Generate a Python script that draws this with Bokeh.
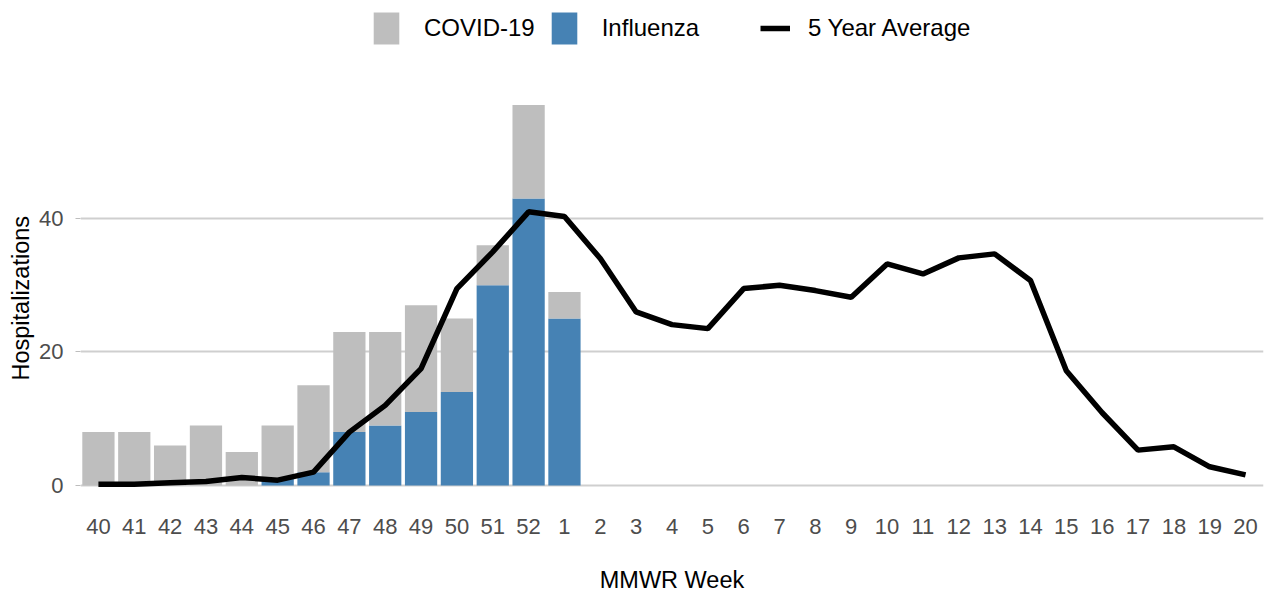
from bokeh.plotting import figure
from bokeh.models import ColumnDataSource, FactorRange, Range1d, Legend, LegendItem, FixedTicker, Title
from bokeh.embed import file_html
from bokeh.resources import INLINE

# ---- data ----
weeks = ["40", "41", "42", "43", "44", "45", "46", "47", "48", "49", "50", "51", "52",
         "1", "2", "3", "4", "5", "6", "7", "8", "9", "10", "11", "12", "13", "14",
         "15", "16", "17", "18", "19", "20"]
bar_weeks = ["40", "41", "42", "43", "44", "45", "46", "47", "48", "49", "50", "51", "52", "1"]
influenza = [0, 0, 0, 0, 0, 1, 2, 8, 9, 11, 14, 30, 43, 25]
covid = [8, 8, 6, 9, 5, 8, 13, 15, 14, 16, 11, 6, 14, 4]
five_year_avg = [0.2, 0.2, 0.4, 0.6, 1.2, 0.8, 2.0, 8.0, 12.0, 17.5, 29.5, 35.0, 41.0,
                 40.3, 34.0, 26.0, 24.1, 23.5, 29.5, 30.0, 29.2, 28.2, 33.2, 31.7,
                 34.1, 34.7, 30.7, 17.2, 10.9, 5.3, 5.8, 2.8, 1.6]
y_ticks = [0, 20, 40]

FONT = "Liberation Sans"
GREY = "#BEBEBE"
BLUE = "#4682B4"

p = figure(x_range=FactorRange(factors=weeks), y_range=Range1d(-1.05, 72.66),
           width=1265, height=598, output_backend="svg", toolbar_location=None,
           min_border_left=80, min_border_right=2, min_border_top=0, min_border_bottom=106)
p.outline_line_color = None
p.background_fill_color = "white"
p.border_fill_color = "white"

src = ColumnDataSource(dict(week=bar_weeks, influenza=influenza, covid=covid))
rs = p.vbar_stack(["influenza", "covid"], x="week", width=0.9, color=[BLUE, GREY],
                  line_color=None, source=src)
r_flu, r_covid = rs

r_line = p.line(x=weeks, y=five_year_avg, line_width=5.5, line_color="black")

# grid
p.xgrid.visible = False
p.ygrid.ticker = FixedTicker(ticks=y_ticks)
p.ygrid.grid_line_color = "#cfcfcf"
p.ygrid.grid_line_width = 1.8

# y axis
ya = p.yaxis[0]
ya.ticker = FixedTicker(ticks=y_ticks)
ya.axis_line_color = None
ya.major_tick_line_color = "#bdbdbd"
ya.major_tick_out = 5
ya.major_tick_in = 0
ya.minor_tick_line_color = None
ya.major_label_text_font = FONT
ya.major_label_text_font_size = "22px"
ya.major_label_text_color = "#4d4d4d"
ya.major_label_standoff = 12

# y axis title, positioned along the side panel
ytitle = Title(text="Hospitalizations", align="left", offset=112, text_font=FONT,
               text_font_size="23.5px", text_font_style="normal", text_color="black",
               standoff=6)
p.add_layout(ytitle, "left")

# x axis
xa = p.xaxis[0]
xa.axis_line_color = None
xa.major_tick_line_color = None
xa.major_tick_out = 0
xa.major_tick_in = 0
xa.major_label_text_font = FONT
xa.major_label_text_font_size = "22px"
xa.major_label_text_color = "#4d4d4d"
xa.major_label_standoff = 26
xa.axis_label = "MMWR Week"
xa.axis_label_text_font = FONT
xa.axis_label_text_font_size = "23.5px"
xa.axis_label_text_font_style = "normal"
xa.axis_label_text_color = "black"
xa.axis_label_standoff = 30

# legends (placed inside the top part of the frame)
common = dict(orientation="horizontal", padding=0, margin=0, border_line_color=None,
              background_fill_alpha=0, label_text_font=FONT, label_text_font_size="24px",
              label_text_color="black", glyph_height=40, spacing=13)
leg1 = Legend(items=[LegendItem(label="COVID-19", renderers=[r_covid]),
                     LegendItem(label="Influenza", renderers=[r_flu])],
              location=(290, 444), glyph_width=32, label_standoff=22, **common)
leg2 = Legend(items=[LegendItem(label="5 Year Average", renderers=[r_line])],
              location=(680, 444), glyph_width=30, label_standoff=18, **common)
p.add_layout(leg1)
p.add_layout(leg2)

open("out.html", "w").write(file_html(p, INLINE))
